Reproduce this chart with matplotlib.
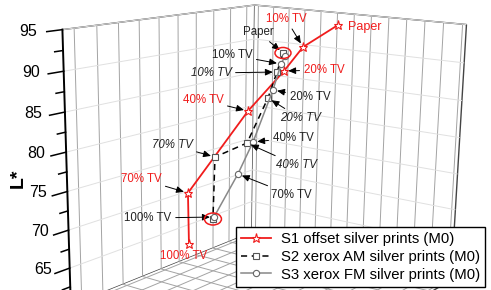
import numpy as np
import matplotlib
matplotlib.use("Agg")
import matplotlib.pyplot as plt
from matplotlib.lines import Line2D
from matplotlib.patches import Ellipse
from matplotlib.ticker import MultipleLocator, NullFormatter
from matplotlib.transforms import IdentityTransform
from mpl_toolkits.mplot3d import proj3d

plt.rcParams["font.family"] = ["Liberation Sans", "DejaVu Sans"]

# values (x, y: chroma plane, L*: lightness)
steps = ["Paper", "10% TV", "20% TV", "40% TV", "70% TV", "100% TV"]
s1_x = [8.13, 6.23, 5.17, 3.05, -0.82, -0.76]
s1_y = [6.0, 6.0, 6.0, 6.0, 6.0, 6.0]
s1_L = [95.22, 91.95, 88.52, 82.42, 69.03, 61.36]
s2_x = [5.09, 4.76, 4.25, 3.01, 0.98, 0.86]
s2_y = [6.0, 6.0, 6.0, 6.0, 6.0, 6.0]
s2_L = [90.87, 88.26, 84.61, 77.96, 75.12, 66.0]
s3_x = [5.21, 4.99, 4.54, 3.38, 2.46, 0.93]
s3_y = [6.0, 6.0, 6.0, 6.0, 6.0, 6.0]
s3_L = [90.51, 89.39, 85.79, 78.25, 73.34, 66.33]
labels = ["S1 offset silver prints (M0)", "S2 xerox AM silver prints (M0)",
          "S3 xerox FM silver prints (M0)"]
z_ticks = [65, 70, 75, 80, 85, 90, 95]

W, H = 491, 290
RED = "#f01c1c"
XL, YL, ZL = (-0.25, 12.2), (-0.5, 9.5), (60, 95)

fig = plt.figure(figsize=(W / 100, H / 100), dpi=100)
ax = fig.add_axes([0.05813, -0.3988, 0.9602, 1.62571], projection="3d")
ax.view_init(14.18, -54.66, -0.95)
ax.set_proj_type("persp", focal_length=0.43)
ax.set_box_aspect((1, 1.133, 1.028))

styles = [
    dict(color=RED, lw=1.3, marker="*", ms=6.5, mfc="white", mec=RED, mew=0.8),
    dict(color="black", lw=1.1, ls=(0, (4, 3)), marker="s", ms=4, mfc="white", mec="#555555", mew=0.8),
    dict(color="#888888", lw=1.1, marker="o", ms=4.5, mfc="white", mec="#666666", mew=0.8),
]
series = [(s1_x, s1_y, s1_L), (s2_x, s2_y, s2_L), (s3_x, s3_y, s3_L)]
for (xs, ys, zs), st in zip(series, styles):
    ax.plot(xs, ys, zs, **st)

# hand-drawn L* ticks on the front-left edge (major + minor)
for z in np.arange(62.5, 96, 2.5):
    ln = 0.65 if z % 5 == 0 else 0.35
    ax.plot([XL[0], XL[0]], [YL[0], YL[0] - ln], [z, z], color="black", lw=1.1)

ax.set_xlim(XL)
ax.set_ylim(YL)
ax.set_zlim(ZL)
ax.xaxis.set_major_locator(MultipleLocator(1))
ax.yaxis.set_major_locator(MultipleLocator(1))
ax.set_zticks(z_ticks)
ax.zaxis.set_major_formatter(NullFormatter())
for a in (ax.xaxis, ax.yaxis, ax.zaxis):
    a.set_pane_color((1, 1, 1, 1))
    a.pane.set_edgecolor("#444444")
    a.pane.set_linewidth(1.0)
    a._axinfo["grid"].update(color="#a3a3a3", linewidth=0.7)
    a._axinfo["tick"]["inward_factor"] = 0
    a._axinfo["tick"]["outward_factor"] = 0
ax.zaxis._axinfo["grid"].update(color="#e0e0e0", linewidth=0.7)
for a in (ax.xaxis, ax.yaxis):
    a.line.set_color((0, 0, 0, 0))
    a.set_major_formatter(NullFormatter())
ax.zaxis.set_ticks_position("lower")
ax.zaxis.line.set_linewidth(1.4)

fig.canvas.draw()
M = ax.get_proj()


def to_px(x, y, z):
    xs, ys, _ = proj3d.proj_transform(np.atleast_1d(float(x)), np.atleast_1d(float(y)),
                                      np.atleast_1d(float(z)), M)
    return ax.transData.transform(np.c_[xs, ys])[0]


for z in z_ticks:
    u, v = to_px(XL[0], YL[0], z)
    gap = 18 + 7 * (z - 65) / 30
    fig.text(u - gap, v - 1.5, str(z), fontsize=11.5, ha="right", va="center",
             transform=IdentityTransform())

fig.text(18 / W, 1 - 178 / H, "L*", rotation=90, fontsize=14, fontweight="bold",
         ha="center", va="center")

# point labels: (text, colour, italic, text centre in px from top-left, (series, step) or None)
notes = [
    ("Paper", RED, False, (365, 27), None),
    ("10% TV", RED, False, (286, 19), (0, 1)),
    ("20% TV", RED, False, (324, 70), (0, 2)),
    ("40% TV", RED, False, (203, 100), (0, 3)),
    ("70% TV", RED, False, (141, 179), (0, 4)),
    ("100% TV", RED, False, (184, 256), None),
    ("10% TV", "#222222", True, (211, 73), (1, 1)),
    ("20% TV", "#222222", True, (300, 118), (1, 2)),
    ("40% TV", "#222222", True, (296, 165), (1, 3)),
    ("70% TV", "#222222", True, (172, 145), (1, 4)),
    ("Paper", "#222222", False, (258, 32), (1, 0)),
    ("10% TV", "#222222", False, (232, 55), (2, 1)),
    ("20% TV", "#222222", False, (310, 97), (2, 2)),
    ("40% TV", "#222222", False, (293, 138), (2, 3)),
    ("70% TV", "#222222", False, (291, 195), (2, 4)),
    ("100% TV", "#222222", False, (148, 218), (2, 5)),
]
for txt, col, ital, (tx, ty), tgt in notes:
    fs = 9 if txt == "Paper" and col == RED else 8.3
    kw = dict(fontsize=fs, color=col, style="italic" if ital else "normal",
              ha="center", va="center")
    if tgt is None:
        fig.text(tx, H - ty, txt, transform=IdentityTransform(), **kw)
        continue
    si, pi = tgt
    xs, ys, zs = series[si]
    px = to_px(xs[pi], ys[pi], zs[pi])
    ax.annotate(txt, xy=px, xycoords="figure pixels", xytext=(tx, H - ty),
                textcoords="figure pixels", annotation_clip=False,
                arrowprops=dict(arrowstyle="-|>,head_length=0.45,head_width=0.2", color="black",
                                lw=0.7, shrinkA=1, shrinkB=3, mutation_scale=10),
                **kw)

# red rings around the coinciding S2/S3 points
for (xs, ys, zs), pi, (ew, eh) in ((series[1], 0, (16, 11)), (series[1], 5, (17, 12))):
    u, v = to_px(xs[pi], ys[pi], zs[pi])
    fig.add_artist(Ellipse((u, v), ew, eh, fill=False, edgecolor=RED, lw=1.1,
                           transform=IdentityTransform()))

handles = [Line2D([], [], **st) for st in styles]
leg = fig.legend(handles, labels, loc="upper left", bbox_to_anchor=(236 / W, 1 - 227 / H),
                 frameon=True, fancybox=False, edgecolor="black", framealpha=1,
                 borderaxespad=0, fontsize=10.7, handlelength=2.0, handletextpad=0.65,
                 labelspacing=0.25, borderpad=0.35, numpoints=1)
leg.get_frame().set_linewidth(1.0)

fig.savefig("out.png", dpi=100)
